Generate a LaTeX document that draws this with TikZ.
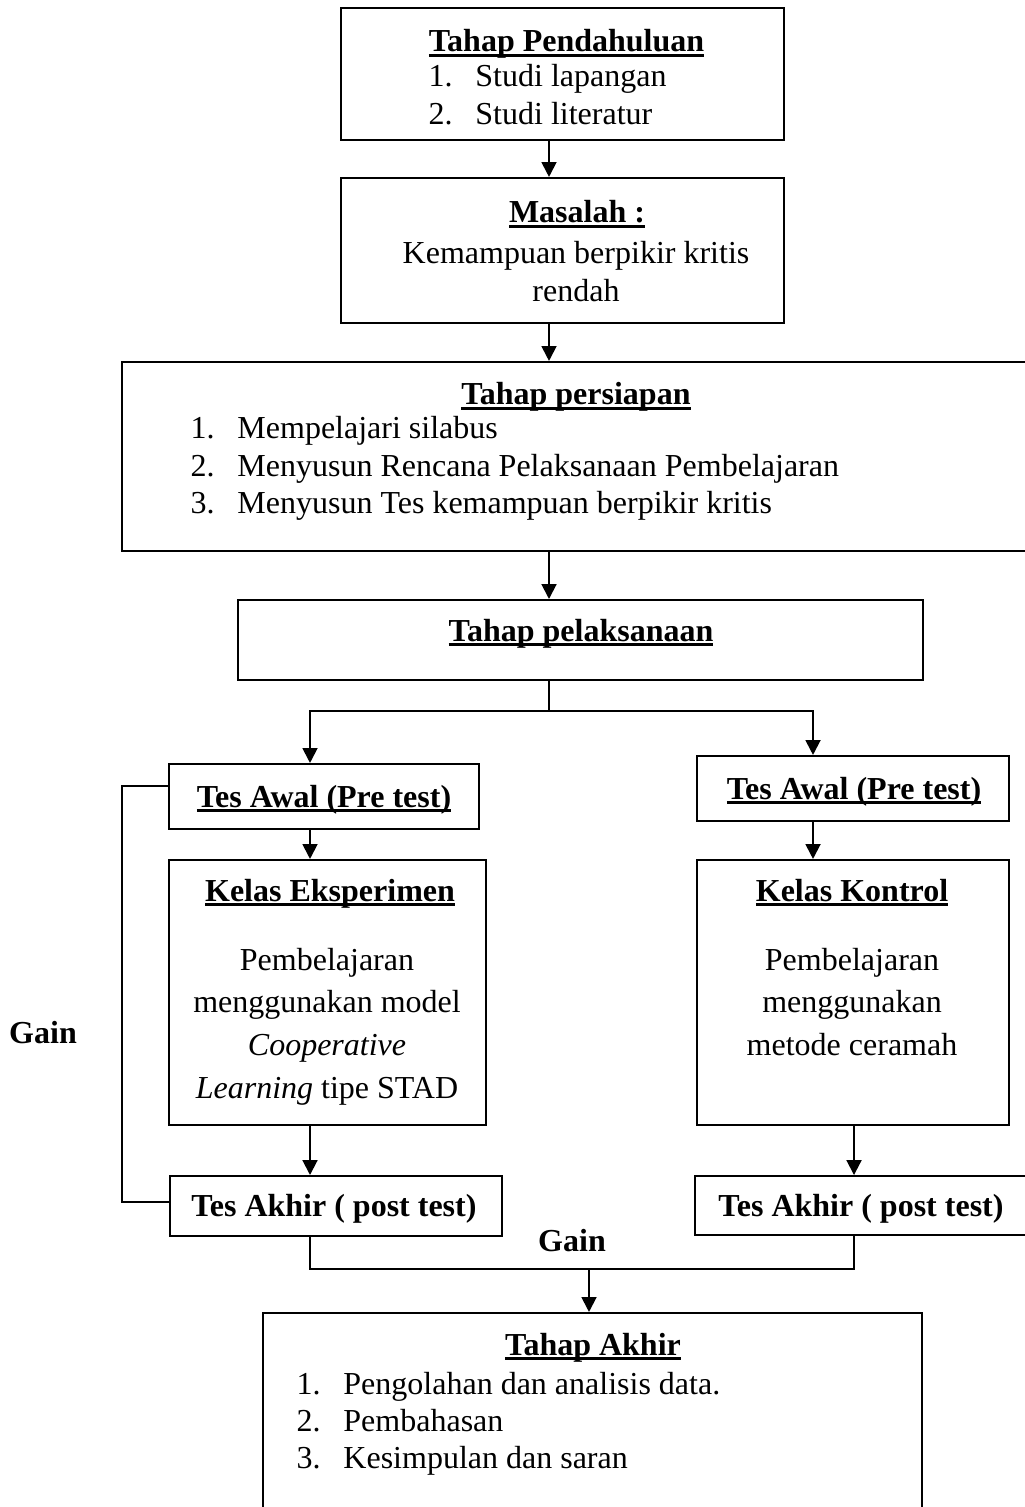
\documentclass[tikz,border=0pt,12pt]{standalone}
\usepackage{fontspec}
\setmainfont{Liberation Serif}
\usetikzlibrary{arrows.meta}
\newcommand{\garis}[1]{\setbox0\hbox{#1}\rlap{\vrule height -0.8pt depth 1.9pt width \wd0}\box0}
\newcommand{\nomor}[1]{\makebox[17.6pt][l]{#1}}
\tikzstyle{box} = [draw=black, line width=0.75pt, inner sep=0pt]
\tikzstyle{heading} = [anchor=base, inner sep=0pt, font=\bfseries]
\tikzstyle{body} = [anchor=base, inner sep=0pt, font=\fontsize{12}{13.9}\selectfont]
\tikzstyle{arrow} = [line width=0.75pt, -{Triangle[length=5.6pt, width=5.6pt]}]
\tikzstyle{link} = [line width=0.75pt]

\begin{document}
\begin{tikzpicture}[x=0.375pt, y=-0.375pt]
    \useasboundingbox (0,0) rectangle (1024,1507);

    % Boxes
    \node[box, minimum width=166.1pt, minimum height=49.5pt] (pend) at (562.5,74) {};
    \node[box, minimum width=166.1pt, minimum height=54.4pt] (masalah) at (562.5,250.5) {};
    \node[box, minimum width=344.25pt, minimum height=70.9pt] (persiapan) at (581,456.5) {};
    \node[box, minimum width=256.9pt, minimum height=30pt] (pelaksanaan) at (580.5,640) {};
    \node[box, minimum width=116.25pt, minimum height=24.4pt] (awalA) at (324,796.5) {};
    \node[box, minimum width=117pt, minimum height=24.4pt] (awalB) at (853,788.5) {};
    \node[box, minimum width=118.9pt, minimum height=99.4pt] (eksp) at (327.5,992.5) {};
    \node[box, minimum width=117pt, minimum height=99.4pt] (kontrol) at (853,992.5) {};
    \node[box, minimum width=124.5pt, minimum height=22.5pt] (akhirA) at (336,1206) {};
    \node[box, minimum width=129.4pt, minimum height=22.1pt] (akhirB) at (867.5,1205.5) {};
    \node[box, minimum width=247.1pt, minimum height=81.4pt] (akhir) at (592.5,1421.5) {};

    % Texts
    \node[heading] (pend-t) at (566.5,52) {\garis{Tahap Pendahuluan}};
    \node[body, anchor=base west] (pend-b) at (428,87) {\begin{tabular}[t]{@{}l@{}}\nomor{1.}Studi lapangan\\ \nomor{2.}Studi literatur\end{tabular}};
    \node[heading] (masalah-t) at (577,223) {\garis{Masalah :}};
    \node[body] (masalah-b) at (576,264) {\begin{tabular}[t]{@{}c@{}}Kemampuan berpikir kritis\\ rendah\end{tabular}};
    \node[heading] (persiapan-t) at (576,405) {\garis{Tahap persiapan}};
    \node[body, anchor=base west] (persiapan-b) at (190,439) {\begin{tabular}[t]{@{}l@{}}\nomor{1.}Mempelajari silabus\\ \nomor{2.}Menyusun Rencana Pelaksanaan Pembelajaran\\ \nomor{3.}Menyusun Tes kemampuan berpikir kritis\end{tabular}};
    \node[heading] (pelaksanaan-t) at (581,641) {\garis{Tahap pelaksanaan}};
    \node[heading] (awalA-t) at (324,807) {\garis{Tes Awal (Pre test)}};
    \node[heading] (awalB-t) at (854,799) {\garis{Tes Awal (Pre test)}};
    \node[heading] (eksp-t) at (330,901) {\garis{Kelas Eksperimen}};
    \node[body, font=\fontsize{12}{16.0}\selectfont] (eksp-b) at (327,970) {\begin{tabular}[t]{@{}c@{}}Pembelajaran\\ menggunakan model\\ \textit{Cooperative}\\ \textit{Learning} tipe STAD\end{tabular}};
    \node[heading] (kontrol-t) at (852,901) {\garis{Kelas Kontrol}};
    \node[body, font=\fontsize{12}{16.0}\selectfont] (kontrol-b) at (852,970) {\begin{tabular}[t]{@{}c@{}}Pembelajaran\\ menggunakan\\ metode ceramah\end{tabular}};
    \node[heading] (akhirA-t) at (334,1216) {Tes Akhir ( post test)};
    \node[heading] (akhirB-t) at (861,1216) {Tes Akhir ( post test)};
    \node[heading] (gainL) at (43,1043) {Gain};
    \node[heading] (gainM) at (572,1251) {Gain};
    \node[heading] (akhir-t) at (593,1355) {\garis{Tahap Akhir}};
    \node[body, anchor=base west] (akhir-b) at (296,1394) {\begin{tabular}[t]{@{}l@{}}\nomor{1.}Pengolahan dan analisis data.\\ \nomor{2.}Pembahasan\\ \nomor{3.}Kesimpulan dan saran\end{tabular}};

    % Routing points
    \coordinate (spine) at (549,0);
    \coordinate (split) at (549,711);
    \coordinate (colA) at (310,0);
    \coordinate (colB) at (813,0);
    \coordinate (colC) at (854,0);
    \coordinate (join) at (589,1269);
    \coordinate (brkTop) at (122,786);
    \coordinate (brkBot) at (122,1202);

    % Connections
    \draw[arrow] (pend.south -| spine) -- (masalah.north -| spine);
    \draw[arrow] (masalah.south -| spine) -- (persiapan.north -| spine);
    \draw[arrow] (persiapan.south -| spine) -- (pelaksanaan.north -| spine);
    \draw[link] (pelaksanaan.south -| spine) -- (split);
    \draw[arrow] (split) -| (awalA.north -| colA);
    \draw[arrow] (split) -| (awalB.north -| colB);
    \draw[arrow] (awalA.south -| colA) -- (eksp.north -| colA);
    \draw[arrow] (awalB.south -| colB) -- (kontrol.north -| colB);
    \draw[arrow] (eksp.south -| colA) -- (akhirA.north -| colA);
    \draw[arrow] (kontrol.south -| colC) -- (akhirB.north -| colC);
    \draw[link] (akhirA.south -| colA) -- (colA |- join) -- (colC |- join) -- (akhirB.south -| colC);
    \draw[arrow] (join) -- (akhir.north -| join);
    \draw[link] (awalA.west |- brkTop) -- (brkTop) -- (brkBot) -- (akhirA.west |- brkBot);

\end{tikzpicture}
\end{document}
